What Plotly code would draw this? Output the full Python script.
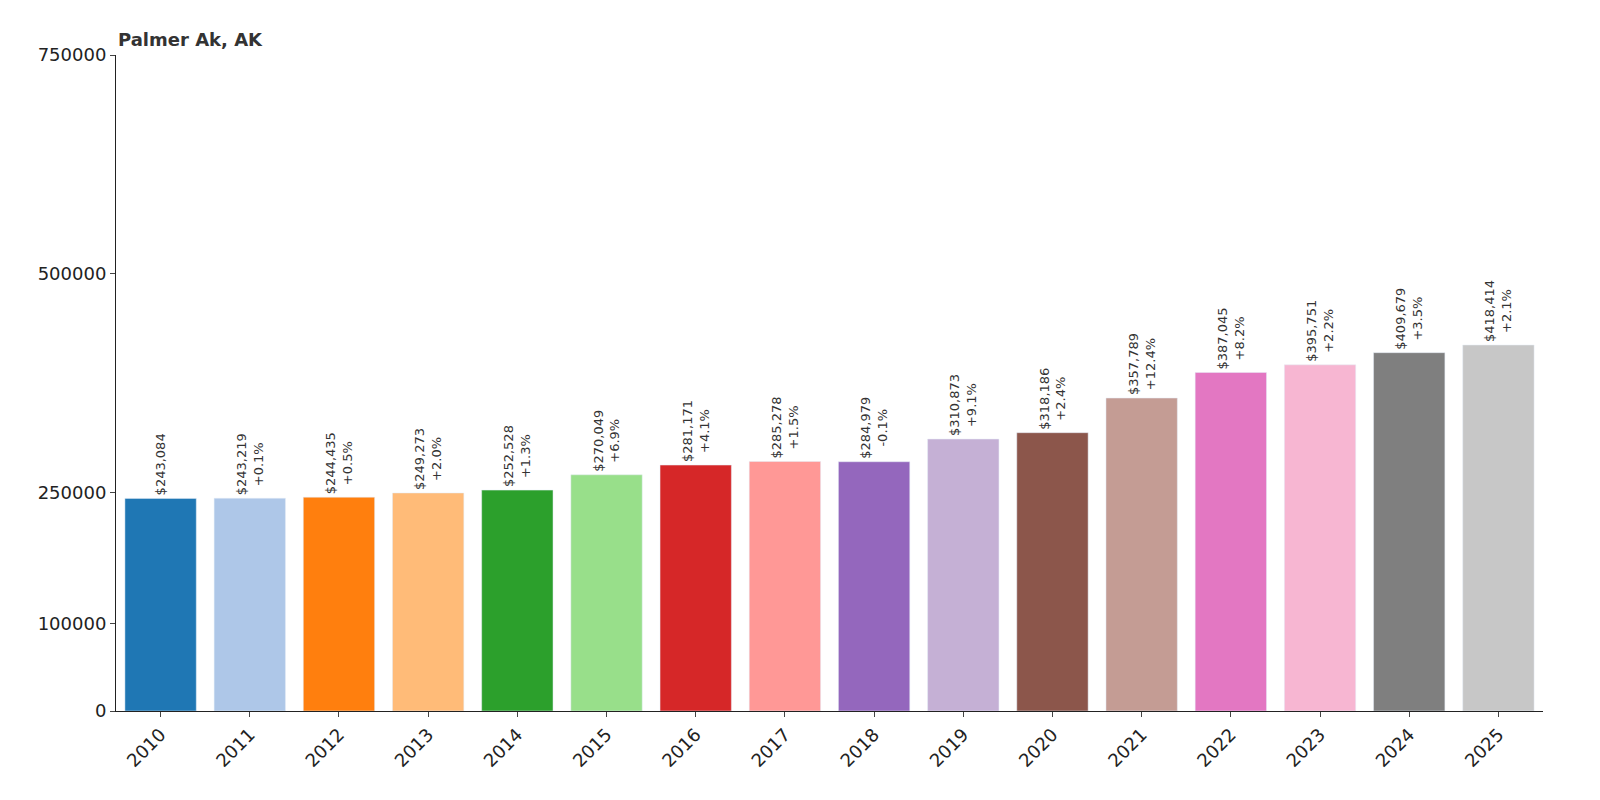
import plotly.graph_objects as go

years = [str(y) for y in range(2010, 2026)]
values = [243084, 243219, 244435, 249273, 252528, 270049, 281171, 285278, 284979,
          310873, 318186, 357789, 387045, 395751, 409679, 418414]
changes = [None, "+0.1%", "+0.5%", "+2.0%", "+1.3%", "+6.9%", "+4.1%", "+1.5%", "-0.1%",
           "+9.1%", "+2.4%", "+12.4%", "+8.2%", "+2.2%", "+3.5%", "+2.1%"]
colors = ["#1f77b4", "#aec7e8", "#ff7f0e", "#ffbb78", "#2ca02c", "#98df8a", "#d62728", "#ff9896",
          "#9467bd", "#c5b0d5", "#8c564b", "#c49c94", "#e377c2", "#f7b6d2", "#7f7f7f", "#c7c7c7"]
yticks = [0, 100000, 250000, 500000, 750000]

texts = [f"${v:,}" + (f"<br>{c}" if c else "") for v, c in zip(values, changes)]

fig = go.Figure(go.Bar(
    x=years, y=values, marker_color=colors, width=0.8,
    text=texts, textposition="outside", textangle=-90, cliponaxis=False,
    textfont=dict(size=13, color="#333333", family="DejaVu Sans"),
))
fig.update_layout(
    width=1600, height=800, plot_bgcolor="white", paper_bgcolor="white",
    margin=dict(l=108, r=65, t=47, b=97),
    font=dict(family="DejaVu Sans", color="#222222"),
    showlegend=False,
    annotations=[dict(text="<b>Palmer Ak, AK</b>", xref="paper", yref="paper", x=0, y=1,
                      xanchor="left", yanchor="bottom", showarrow=False, yshift=3,
                      font=dict(size=18, color="#333333"))],
)
fig.update_yaxes(range=[0, 750000], tickvals=yticks, ticktext=[str(t) for t in yticks],
                 showgrid=False, showline=True, linecolor="#222", ticks="outside",
                 tickfont=dict(size=18), zeroline=False)
fig.update_xaxes(tickangle=-45, tickfont=dict(size=18), showline=True, linecolor="#222",
                 ticks="outside", showgrid=False)
fig.write_html("out.html")
